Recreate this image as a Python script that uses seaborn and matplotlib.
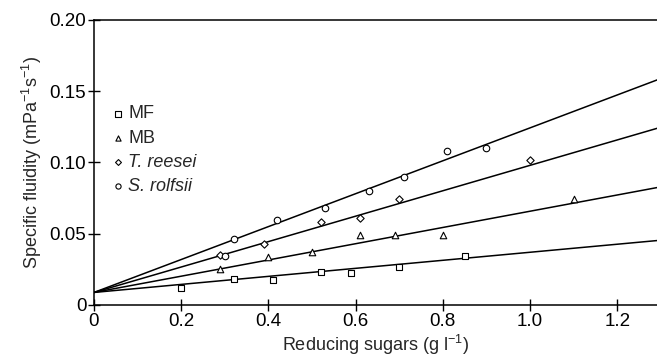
import matplotlib
matplotlib.use("Agg")
import matplotlib.pyplot as plt
import seaborn as sns
import numpy as np
import pandas as pd

sns.set_theme(style="ticks")
plt.rcParams['font.family'] = ['Liberation Sans', 'DejaVu Sans']
plt.rcParams['mathtext.default'] = 'regular'

series = ["MF", "MB", "T. reesei", "S. rolfsii"]

mf_x = [0.20, 0.32, 0.41, 0.52, 0.59, 0.70, 0.85]
mf_y = [0.012, 0.018, 0.0175, 0.0234, 0.0227, 0.0269, 0.0344]
mb_x = [0.29, 0.40, 0.50, 0.61, 0.69, 0.80, 1.10]
mb_y = [0.0255, 0.0339, 0.0374, 0.0493, 0.0493, 0.0493, 0.0742]
tr_x = [0.29, 0.39, 0.52, 0.61, 0.70, 1.00]
tr_y = [0.0349, 0.0428, 0.0585, 0.0613, 0.0746, 0.1018]
sr_x = [0.30, 0.32, 0.42, 0.53, 0.63, 0.71, 0.81, 0.90]
sr_y = [0.0342, 0.0465, 0.0596, 0.068, 0.0802, 0.0896, 0.1083, 0.1104]

# fitted lines (intercept, slope)
fit_intercept = [0.0088, 0.0088, 0.0088, 0.0088]
fit_slope = [0.0282, 0.0570, 0.0892, 0.1155]

xs = [mf_x, mb_x, tr_x, sr_x]
ys = [mf_y, mb_y, tr_y, sr_y]
pts = pd.DataFrame({
    "x": np.concatenate(xs),
    "y": np.concatenate(ys),
    "series": np.concatenate([[s] * len(x) for s, x in zip(series, xs)]),
})

line_x = [0.0, 1.3]
lines = pd.DataFrame({
    "x": np.tile(line_x, len(series)),
    "y": np.concatenate([[b + m * xx for xx in line_x] for b, m in zip(fit_intercept, fit_slope)]),
    "series": np.repeat(series, len(line_x)),
})

fig = plt.figure(figsize=(6.57, 3.62), dpi=100)
ax = fig.add_axes([0.143, 0.1575, 0.857, 0.7873])

sns.lineplot(data=lines, x="x", y="y", units="series", estimator=None,
             color="black", lw=1.1, ax=ax, legend=False)
markers = {"MF": "s", "MB": "^", "T. reesei": "D", "S. rolfsii": "o"}
sizes_m = {"MF": 22, "MB": 22, "T. reesei": 14, "S. rolfsii": 22}
for s in series:
    sub = pts[pts.series == s]
    ax.scatter(sub.x, sub.y, marker=markers[s], s=sizes_m[s],
               facecolors="white", edgecolors="black", linewidths=0.8, zorder=3,
               label=s)

ax.set_xlim(0, 1.291)
ax.set_ylim(0, 0.2)
ax.set_xticks([0, 0.2, 0.4, 0.6, 0.8, 1.0, 1.2])
ax.set_xticklabels(["0", "0.2", "0.4", "0.6", "0.8", "1.0", "1.2"])
ax.set_yticks([0, 0.05, 0.10, 0.15, 0.20])
ax.set_yticklabels(["0", "0.05", "0.10", "0.15", "0.20"])
ax.tick_params(direction="inout", length=9, width=1, labelsize=13.5, colors="black", pad=1)
ax.spines["right"].set_visible(False)
for sp in ["left", "bottom", "top"]:
    ax.spines[sp].set_linewidth(1.1)
    ax.spines[sp].set_color("black")

ax.set_xlabel("Reducing sugars (g l$^{-1}$)", fontsize=13, labelpad=2)
ax.set_ylabel("Specific fluidity (mPa$^{-1}$s$^{-1}$)", fontsize=13, labelpad=4)

leg = ax.legend(loc="upper left", bbox_to_anchor=(0.01, 0.745), frameon=False,
                fontsize=13, handletextpad=0.3, labelspacing=0.4,
                handlelength=0.6, borderaxespad=0.3, markerscale=0.8)
for t in leg.get_texts():
    if t.get_text() in ("T. reesei", "S. rolfsii"):
        t.set_style("italic")

fig.savefig("out.png", dpi=100)
